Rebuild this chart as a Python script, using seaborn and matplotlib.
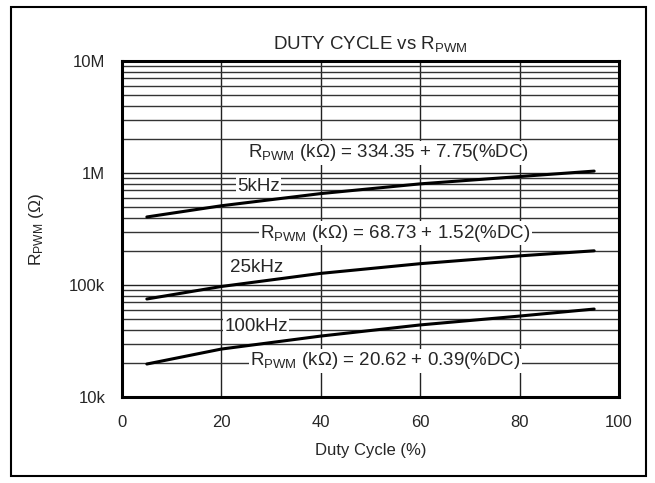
import numpy as np
import pandas as pd
import seaborn as sns
from matplotlib import pyplot as plt
from matplotlib.ticker import FixedLocator, LogLocator, NullFormatter

# values (ohms)
duty = [5, 20, 40, 60, 80, 95]
r_5khz = [405e3, 510e3, 655e3, 800e3, 930e3, 1040e3]
r_25khz = [75e3, 97e3, 127e3, 155e3, 182e3, 202e3]
r_100khz = [19.7e3, 26.8e3, 35e3, 44e3, 52.8e3, 61e3]

y_ticks = [1e4, 1e5, 1e6, 1e7]
y_tick_labels = ["10k", "100k", "1M", "10M"]
x_ticks = [0, 20, 40, 60, 80, 100]


def main():
    sns.set_style("white")
    plt.rcParams["font.family"] = ["Liberation Sans", "DejaVu Sans"]
    plt.rcParams["mathtext.fontset"] = "custom"
    plt.rcParams["mathtext.rm"] = "Liberation Sans"
    plt.rcParams["mathtext.it"] = "Liberation Sans"

    df = pd.concat([
        pd.DataFrame({"duty": duty, "r": r_5khz, "f": "5kHz"}),
        pd.DataFrame({"duty": duty, "r": r_25khz, "f": "25kHz"}),
        pd.DataFrame({"duty": duty, "r": r_100khz, "f": "100kHz"}),
    ])

    fig = plt.figure(figsize=(6.55, 4.83), dpi=100)
    ax = fig.add_axes([122 / 655, 1 - 397 / 483, 497 / 655, 336 / 483])

    sns.lineplot(data=df, x="duty", y="r", units="f", estimator=None,
                 color="black", lw=2.2, ax=ax, zorder=4, legend=False)

    ax.set_yscale("log")
    ax.set_ylim(1e4, 1e7)
    ax.set_xlim(0, 100)
    ax.yaxis.set_major_locator(FixedLocator(y_ticks))
    ax.yaxis.set_minor_locator(LogLocator(base=10, subs=np.arange(2, 10)))
    ax.yaxis.set_minor_formatter(NullFormatter())
    ax.set_yticks(y_ticks, y_tick_labels)
    ax.set_xticks(x_ticks)
    ax.tick_params(axis="both", which="both", length=0, labelsize=12)
    ax.tick_params(axis="y", pad=12)
    ax.tick_params(axis="x", pad=13)

    ax.grid(True, which="major", axis="both", color="#222222", lw=1)
    ax.grid(True, which="minor", axis="y", color="#333333", lw=1)
    for s in ax.spines.values():
        s.set_linewidth(2.2)
        s.set_color("black")

    box = dict(facecolor="white", edgecolor="none", pad=1)
    txt = dict(fontsize=13.5, ha="center", va="center", bbox=box, zorder=3)
    ax.text(53.7, 1.51e6, r"R$_{\mathrm{PWM}}$ (k$\Omega$) = 334.35 + 7.75(%DC)", **txt)
    ax.text(27.4, 7.5e5, "5kHz", **txt)
    ax.text(55, 2.91e5, r"R$_{\mathrm{PWM}}$ (k$\Omega$) = 68.73 + 1.52(%DC)", **txt)
    ax.text(27, 1.42e5, "25kHz", **txt)
    ax.text(27, 4.3e4, "100kHz", **txt)
    ax.text(53, 2.1e4, r"R$_{\mathrm{PWM}}$ (k$\Omega$) = 20.62 + 0.39(%DC)", **txt)

    ax.set_title(r"DUTY CYCLE vs R$_{\mathrm{PWM}}$", fontsize=13.5, pad=9)
    ax.set_xlabel("Duty Cycle (%)", fontsize=12, labelpad=9)
    ax.set_ylabel(r"R$_{\mathrm{PWM}}$ ($\Omega$)", fontsize=12.5, labelpad=17)

    # outer frame
    fig.patches.append(plt.Rectangle((11 / 655, 7 / 483), 635 / 655, 469 / 483,
                                     transform=fig.transFigure, fill=False,
                                     edgecolor="black", lw=1.5))
    plt.savefig("out.png", dpi=100)
    plt.close()


if __name__ == "__main__":
    main()
